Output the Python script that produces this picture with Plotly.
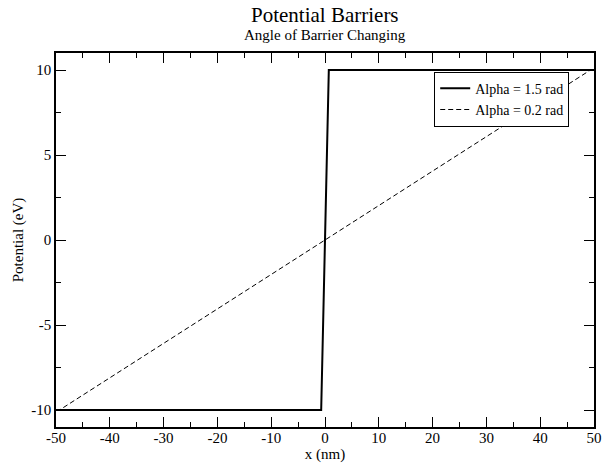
import plotly.graph_objects as go

# Data
x_alpha15 = [-50, -0.709, 0.709, 50]
y_alpha15 = [-10, -10, 10, 10]
x_alpha02 = [-50, -49.34, 49.34, 50]
y_alpha02 = [-10, -10, 10, 10]
names = ["Alpha = 1.5 rad", "Alpha = 0.2 rad"]
x_ticks = [-50, -40, -30, -20, -10, 0, 10, 20, 30, 40, 50]
y_ticks = [-10, -5, 0, 5, 10]

FONT = "Liberation Serif, Times New Roman, serif"

fig = go.Figure()
fig.add_trace(go.Scatter(x=x_alpha15, y=y_alpha15, mode="lines", name=names[0],
                         line=dict(color="black", width=2)))
fig.add_trace(go.Scatter(x=x_alpha02, y=y_alpha02, mode="lines", name=names[1],
                         line=dict(color="black", width=1, dash="5px,3px")))

axis_common = dict(showline=True, linecolor="black", linewidth=1.5, mirror="allticks",
                   ticks="inside", ticklen=10, tickwidth=1, tickcolor="black",
                   showgrid=False, zeroline=False, automargin=False,
                   ticklabeloverflow="allow",
                   tickfont=dict(family=FONT, size=15, color="black"))

fig.update_xaxes(range=[-50, 50], tickvals=x_ticks, ticktext=[str(v) for v in x_ticks],
                 minor=dict(ticks="inside", ticklen=5, tickwidth=1, tickcolor="black", dtick=5),
                 ticklabelstandoff=-4,
                 title=dict(text="x (nm)", font=dict(family=FONT, size=15, color="black"), standoff=0),
                 **axis_common)
fig.update_yaxes(range=[-11, 11], tickvals=y_ticks, ticktext=[str(v) for v in y_ticks],
                 minor=dict(ticks="inside", ticklen=5, tickwidth=1, tickcolor="black", dtick=2.5, tick0=0),
                 title=dict(text="Potential (eV)", font=dict(family=FONT, size=15, color="black"), standoff=4),
                 **axis_common)

fig.update_layout(
    width=602, height=468,
    margin=dict(l=56, r=8, t=53, b=41),
    paper_bgcolor="white", plot_bgcolor="white",
    font=dict(family=FONT, color="black"),
    showlegend=True,
    legend=dict(x=0.703, y=0.95, xanchor="left", yanchor="top",
                bordercolor="black", borderwidth=1, bgcolor="white",
                font=dict(family=FONT, size=14, color="black"),
                tracegroupgap=0, itemwidth=30),
)
fig.add_annotation(text="Potential Barriers", xref="paper", yref="paper", x=0.5, y=1,
                   yshift=38, showarrow=False, yanchor="middle",
                   font=dict(family=FONT, size=21, color="black"))
fig.add_annotation(text="Angle of Barrier Changing", xref="paper", yref="paper", x=0.5, y=1,
                   yshift=18, showarrow=False, yanchor="middle",
                   font=dict(family=FONT, size=15, color="black"))

# remove the page's default body margin so the figure fills the window exactly
fig.write_html("out.html",
               config={"displayModeBar": False},
               post_script="document.body.style.margin='0';document.body.style.overflow='hidden';")
